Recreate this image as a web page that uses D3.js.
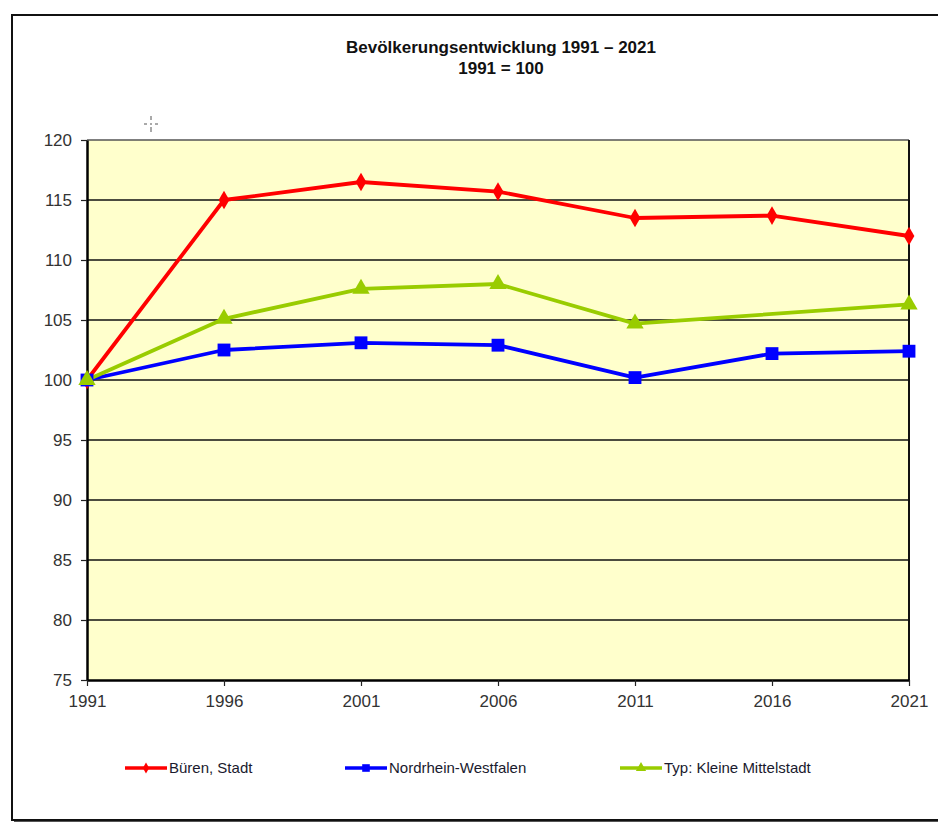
<!DOCTYPE html>
<html>
<head>
<meta charset="utf-8">
<script src="https://cdn.jsdelivr.net/npm/d3@7"></script>
<style>
  html, body { margin: 0; padding: 0; background: #fff; }
  svg { display: block; font-family: "Liberation Sans", Arial, sans-serif; }
</style>
</head>
<body>
<svg id="chart" width="938" height="823"></svg>
<script>
const years = [1991, 1996, 2001, 2006, 2011, 2016, 2021];
const bueren = [100, 115.0, 116.5, 115.7, 113.5, 113.7, 112.0];
const nrw = [100, 102.5, 103.1, 102.9, 100.2, 102.2, 102.4];
const typKleineMittelstadt = [100, 105.1, 107.6, 108.0, 104.7, null, 106.3];
const yTicks = [75, 80, 85, 90, 95, 100, 105, 110, 115, 120];
const seriesNames = ["Büren, Stadt", "Nordrhein-Westfalen", "Typ: Kleine Mittelstadt"];
const titleLines = ["Bevölkerungsentwicklung 1991 – 2021", "1991 = 100"];

(function () {
const series = [
  { name: seriesNames[0], values: bueren, color: "#FF0000", symbol: d3.symbolDiamond, size: 100 },
  { name: seriesNames[1], values: nrw, color: "#0000FF", symbol: d3.symbolSquare, size: 165 },
  { name: seriesNames[2], values: typKleineMittelstadt, color: "#99CC00", symbol: d3.symbolTriangle, size: 130 }
];

const svg = d3.select("#chart");

// outer frame with shadow
svg.append("rect").attr("x", 14).attr("y", 17).attr("width", 940).attr("height", 805).attr("fill", "#555");
svg.append("rect").attr("x", 12).attr("y", 15).attr("width", 940).attr("height", 805)
  .attr("fill", "#fff").attr("stroke", "#111").attr("stroke-width", 2);

const pLeft = 87, pRight = 909, pTop = 140, pBottom = 680;
const x = d3.scalePoint().domain(years).range([pLeft, pRight]);
const y = d3.scaleLinear().domain([75, 120]).range([pBottom, pTop]);

// plot area
svg.append("rect").attr("x", pLeft).attr("y", pTop).attr("width", pRight - pLeft).attr("height", pBottom - pTop)
  .attr("fill", "#FFFFCC");

// gridlines
svg.append("g").selectAll("line").data(yTicks.filter(t => t > 75)).join("line")
  .attr("x1", pLeft).attr("x2", pRight).attr("y1", d => y(d)).attr("y2", d => y(d))
  .attr("stroke", d => d === 120 ? "#555" : "#111").attr("stroke-width", d => d === 120 ? 1.5 : 1.6);

// right border
svg.append("line").attr("x1", pRight).attr("x2", pRight).attr("y1", pTop).attr("y2", pBottom)
  .attr("stroke", "#111").attr("stroke-width", 2);

// y axis
const yAxis = svg.append("g").attr("transform", `translate(${pLeft},0)`)
  .call(d3.axisLeft(y).tickValues(yTicks).tickSize(6).tickSizeOuter(0).tickPadding(9));
yAxis.select(".domain").attr("stroke", "#000").attr("stroke-width", 2.5);
yAxis.selectAll(".tick line").attr("stroke", "#222").attr("stroke-width", 1.2);
yAxis.selectAll("text").attr("font-size", 17).attr("fill", "#333").attr("font-family", "Liberation Sans, Arial, sans-serif");

// x axis
const xAxis = svg.append("g").attr("transform", `translate(0,${pBottom})`)
  .call(d3.axisBottom(x).tickSize(6).tickSizeOuter(0).tickPadding(9));
xAxis.select(".domain").attr("stroke", "#000").attr("stroke-width", 2.5);
xAxis.selectAll(".tick line").attr("stroke", "#222").attr("stroke-width", 1.2);
xAxis.selectAll("text").attr("font-size", 17).attr("fill", "#333").attr("font-family", "Liberation Sans, Arial, sans-serif");

// lines
const line = d3.line().x(d => x(d.year)).y(d => y(d.v));
series.forEach(s => {
  const pts = years.map((yr, i) => ({ year: yr, v: s.values[i] })).filter(d => d.v !== null);
  svg.append("path").datum(pts).attr("d", line).attr("fill", "none")
    .attr("stroke", s.color).attr("stroke-width", 3.8).attr("stroke-linejoin", "round");
});
series.forEach(s => {
  const pts = years.map((yr, i) => ({ year: yr, v: s.values[i] })).filter(d => d.v !== null);
  svg.append("g").selectAll("path").data(pts).join("path")
    .attr("transform", d => `translate(${x(d.year)},${y(d.v)})`)
    .attr("d", d3.symbol().type(s.symbol).size(s.size))
    .attr("fill", s.color);
});

// title
svg.append("g").selectAll("text").data(titleLines).join("text")
  .attr("x", 501).attr("y", (d, i) => 53 + i * 21)
  .attr("text-anchor", "middle").attr("font-weight", "bold").attr("font-size", 17)
  .attr("fill", "#111").text(d => d);

// cursor artifact
const cx = 151, cy = 124;
const cross = svg.append("g").attr("stroke", "#555").attr("stroke-width", 1);
[[cx - 7, cy, cx - 4, cy], [cx + 4, cy, cx + 7, cy], [cx, cy - 8, cx, cy - 4], [cx, cy + 3, cx, cy + 8], [cx - 1, cy, cx + 1, cy]]
  .forEach(a => cross.append("line").attr("x1", a[0]).attr("y1", a[1]).attr("x2", a[2]).attr("y2", a[3]));

// legend
const legendX = [125, 345, 620];
const leg = svg.append("g").selectAll("g").data(series).join("g")
  .attr("transform", (d, i) => `translate(${legendX[i]},768)`);
leg.append("line").attr("x1", 0).attr("x2", 42).attr("y1", 0).attr("y2", 0)
  .attr("stroke", d => d.color).attr("stroke-width", 3.5);
leg.append("path").attr("transform", "translate(21,0)")
  .attr("d", d => d3.symbol().type(d.symbol).size(d.size * 0.35)())
  .attr("fill", d => d.color);
leg.append("text").attr("x", 44).attr("y", 0).attr("dy", "0.35em")
  .attr("font-size", 15).attr("fill", "#1a1a2e").text(d => d.name);
})();
</script>
</body>
</html>
